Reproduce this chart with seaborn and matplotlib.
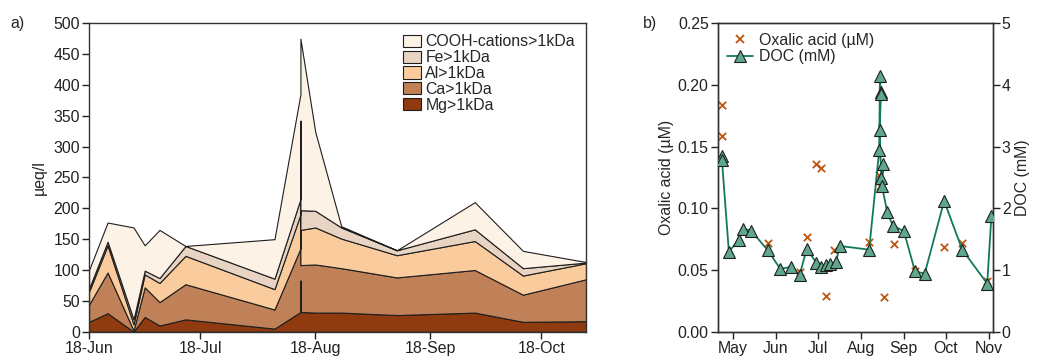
import matplotlib
matplotlib.use("Agg")
import matplotlib.pyplot as plt
import matplotlib.dates as mdates
from matplotlib.patches import Patch
from matplotlib.lines import Line2D
import numpy as np
import pandas as pd
import seaborn as sns

# ---- panel a: stacked high-molecular-weight (>1 kDa) cation pools, µeq/l ----
sample_dates = ["2010-06-18", "2010-06-23", "2010-06-30", "2010-07-03", "2010-07-07",
                "2010-07-14", "2010-08-07", "2010-08-14", "2010-08-14", "2010-08-14",
                "2010-08-18", "2010-08-25", "2010-09-09", "2010-09-30", "2010-10-13",
                "2010-10-30"]
mg_1kda = [16, 30, 0, 24, 10, 20, 5, 32, 83, 32, 31, 31, 27, 31, 16, 17]
ca_1kda = [28, 66, 2, 48, 38, 57, 31, 103, 259, 76, 78, 72, 61, 69, 44, 68]
al_1kda = [21, 44, 10, 21, 31, 46, 33, 55, 0, 57, 60, 48, 36, 47, 31, 26]
fe_1kda = [5, 6, 8, 6, 8, 16, 17, 25, 0, 32, 27, 18, 8, 19, 12, 1]
cooh_cations = [30, 31, 149, 41, 78, 0, 64, 170, 43, 278, 128, 2, 0, 44, 28, 1]
stack_labels = ["Mg>1kDa", "Ca>1kDa", "Al>1kDa", "Fe>1kDa", "COOH-cations>1kDa"]
stack_colors = ["#8f3a0f", "#c08158", "#f9cb9d", "#e8d4c2", "#fdf2e6"]
a_ticks = ["2010-06-18", "2010-07-18", "2010-08-18", "2010-09-18", "2010-10-18"]

# ---- panel b: oxalic acid (µM) and DOC (mM) time series ----
ox_dates = ["2010-04-23", "2010-04-23", "2010-05-26", "2010-06-18", "2010-06-23",
            "2010-06-30", "2010-07-03", "2010-07-07", "2010-07-13", "2010-08-07",
            "2010-08-14", "2010-08-14 12:00", "2010-08-18", "2010-08-25", "2010-09-09",
            "2010-09-30", "2010-10-13", "2010-10-31"]
oxalic = [0.184, 0.159, 0.072, 0.048, 0.077, 0.136, 0.133, 0.029, 0.066, 0.073,
          0.127, 0.118, 0.028, 0.071, 0.049, 0.069, 0.072, 0.041]

doc_dates = ["2010-04-22 18:00", "2010-04-23", "2010-04-28", "2010-05-05", "2010-05-08",
             "2010-05-14", "2010-05-26", "2010-06-04", "2010-06-12", "2010-06-18",
             "2010-06-23", "2010-06-30", "2010-07-03", "2010-07-07", "2010-07-10",
             "2010-07-14", "2010-07-17", "2010-08-07", "2010-08-14 06:00",
             "2010-08-14 18:00", "2010-08-15 06:00", "2010-08-15 12:00",
             "2010-08-14 12:00", "2010-08-15 18:00", "2010-08-17 06:00",
             "2010-08-16 06:00", "2010-08-20", "2010-08-24", "2010-09-01",
             "2010-09-09", "2010-09-16", "2010-09-30", "2010-10-13", "2010-10-31",
             "2010-11-03"]
doc = [2.85, 2.79, 1.30, 1.48, 1.67, 1.64, 1.32, 1.02, 1.05, 0.92, 1.34, 1.12, 1.05,
       1.08, 1.09, 1.13, 1.39, 1.33, 2.94, 4.15, 3.88, 3.85, 3.27, 2.49, 2.72, 2.36,
       1.94, 1.72, 1.63, 0.98, 0.94, 2.12, 1.33, 0.78, 1.87]

FS = 11.4

sns.set_theme(style="ticks")
plt.rcParams["font.family"] = ["Liberation Sans", "DejaVu Sans"]
plt.rcParams["font.size"] = FS
plt.rcParams["axes.linewidth"] = 1.0

fig = plt.figure(figsize=(10.39, 3.6), dpi=100)
ax_a = fig.add_axes([0.0857, 0.0786, 0.4783, 0.8567])
ax_b = fig.add_axes([0.6908, 0.0786, 0.2647, 0.8567])

# stacked areas
xa = pd.to_datetime(sample_dates)
layers = [mg_1kda, ca_1kda, al_1kda, fe_1kda, cooh_cations]
ax_a.stackplot(xa, *layers, colors=stack_colors, edgecolor="#1e1e1e",
               linewidth=0.8, labels=stack_labels)
ax_a.set_xlim(pd.Timestamp("2010-06-18"), pd.Timestamp("2010-10-30"))
ax_a.set_ylim(0, 500)
ax_a.set_yticks(np.arange(0, 501, 50))
ax_a.set_xticks(pd.to_datetime(a_ticks))
ax_a.xaxis.set_major_formatter(mdates.DateFormatter("%d-%b"))
ax_a.set_xlabel("")
ax_a.set_ylabel("µeq/l", fontsize=FS, labelpad=5)
ax_a.tick_params(axis="both", direction="out", length=5, width=1, labelsize=FS,
                 color="#222222", labelcolor="#222222", pad=1.5)
for s in ax_a.spines.values():
    s.set_color("#333333")

handles = [Patch(facecolor=c, edgecolor="#1e1e1e", linewidth=0.8, label=l)
           for c, l in zip(stack_colors, stack_labels)][::-1]
ax_a.legend(handles=handles, loc="upper right", frameon=False, fontsize=FS,
            handlelength=1.1, handleheight=0.8, handletextpad=0.3,
            labelspacing=0.05, borderaxespad=0.3)

# oxalic acid on the left axis, DOC on the right axis
xo = pd.to_datetime(ox_dates, format="mixed")
xd = pd.to_datetime(doc_dates, format="mixed")
sns.scatterplot(x=xo, y=oxalic, ax=ax_b, marker="x", color="#c0560f", s=28,
                linewidth=1.3, zorder=2)
ax_b2 = ax_b.twinx()
sns.lineplot(x=xd, y=doc, ax=ax_b2, estimator=None, sort=False, color="#12795b",
             linewidth=1.3, marker="^", markersize=8, markerfacecolor="#5fa88c",
             markeredgecolor="#1e1e1e", markeredgewidth=0.8, zorder=3)

ax_b.set_xlim(pd.Timestamp("2010-04-20"), pd.Timestamp("2010-11-04"))
ax_b.set_ylim(0, 0.25)
ax_b.set_yticks(np.arange(0, 0.251, 0.05))
ax_b.yaxis.set_major_formatter(matplotlib.ticker.FormatStrFormatter("%.2f"))
ax_b2.set_ylim(0, 5)
ax_b2.set_yticks(range(0, 6))
ax_b.xaxis.set_major_locator(mdates.MonthLocator())
ax_b.xaxis.set_major_formatter(mdates.DateFormatter("%b"))
ax_b.set_ylabel("Oxalic acid (µM)", fontsize=FS, labelpad=3)
ax_b2.set_ylabel("DOC (mM)", fontsize=FS, labelpad=3)
for ax in (ax_b, ax_b2):
    ax.set_xlabel("")
    ax.tick_params(axis="both", direction="out", length=5, width=1, labelsize=FS,
                   color="#222222", labelcolor="#222222", pad=1.5)
    for s in ax.spines.values():
        s.set_color("#333333")

leg_handles = [
    Line2D([], [], linestyle="none", marker="x", color="#c0560f", markersize=5.5,
           markeredgewidth=1.3, label="Oxalic acid (µM)"),
    Line2D([], [], color="#12795b", linewidth=1.3, marker="^", markersize=8,
           markerfacecolor="#5fa88c", markeredgecolor="#1e1e1e",
           markeredgewidth=0.8, label="DOC (mM)"),
]
ax_b2.legend(handles=leg_handles, loc="upper left", frameon=False, fontsize=FS,
             handlelength=1.6, handletextpad=0.4, labelspacing=0.1,
             borderaxespad=0.2)

fig.text(0.010, 0.935, "a)", fontsize=FS, va="center")
fig.text(0.619, 0.935, "b)", fontsize=FS, va="center")

fig.savefig("out.png", dpi=100)
